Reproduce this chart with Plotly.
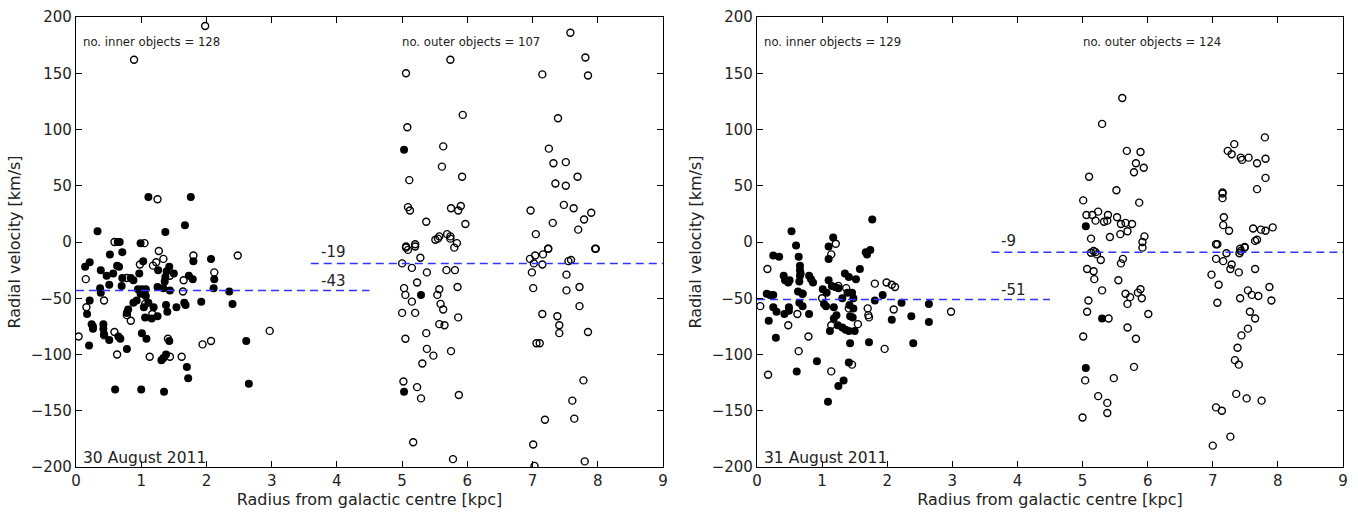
import plotly.graph_objects as go

# ---------------- 30 August 2011 ----------------
d1_filled_x = [1.11, 1.76, 1.67, 0.33, 1.37, 0.64, 0.67, 0.99, 0.71, 0.52, 1.80, 2.07, 1.03, 0.21, 0.14, 0.63, 0.66,
               0.38, 1.43, 1.39, 1.50, 0.47, 0.57, 0.71, 0.84, 0.88, 0.97, 1.26, 1.73, 1.79, 2.12, 1.37, 1.36, 0.51,
               0.70, 0.37, 0.38, 2.11, 0.95, 1.01, 1.07, 1.25, 1.34, 1.44, 2.35, 0.21, 1.92, 2.40, 0.99, 1.07, 0.88,
               0.93, 1.04, 1.11, 1.19, 1.38, 1.54, 1.66, 1.68, 0.80, 0.78, 0.17, 1.25, 1.40, 1.06, 1.16, 0.24, 0.26,
               0.26, 0.42, 0.42, 0.43, 0.51, 0.65, 0.68, 1.01, 1.08, 1.43, 2.61, 0.20, 0.78, 1.31, 1.34, 1.38, 1.70,
               1.72, 0.60, 1.00, 1.35, 2.65,
               5.03, 5.29, 5.03]
d1_filled_y = [40, 40, 15, 9.5, 9, 0, 0, -1, -9, -11, -17, -15, -17, -18, -22, -21, -22,
               -25, -22, -26, -28, -30, -28, -32, -32, -34, -28, -25, -30, -33, -33, -31, -35, -38,
               -39, -41, -45, -41, -42, -42, -42, -40, -41, -43, -44, -52, -53, -55, -46, -48, -54,
               -52, -58, -54, -58, -56, -58, -54, -56, -60, -63, -64, -66, -62, -67, -68, -73, -75,
               -77, -73, -77, -82, -87, -84, -86, -81, -86, -88, -88, -92, -95, -105, -103, -100, -111,
               -121, -131, -131, -133, -126,
               82, -47, -133]
d1_open_x = [1.25, 0.59, 1.05, 1.27, 1.80, 2.48, 1.34, 1.23, 0.98, 1.18, 2.12, 0.15, 0.78, 1.65, 1.44, 1.64, 0.16,
             0.43, 1.06, 0.78, 1.17, 0.84, 0.43, 0.59, 1.41, 1.94, 2.07, 2.97, 0.04, 0.63, 1.13, 1.44, 1.62, 0.89,
             1.98,
             # outer
             7.58, 7.81, 7.85, 7.15, 5.74, 5.06, 5.93, 7.39, 5.08, 5.63, 7.25, 7.32, 7.51, 5.61, 5.11, 5.92, 7.35,
             7.51, 7.69, 5.09, 5.12, 5.75, 5.86, 5.90, 5.37, 5.97, 5.51, 5.57, 5.69, 5.74, 5.74, 5.80, 5.06, 5.20,
             6.97, 7.05, 7.31, 7.48, 7.63, 7.79, 7.90, 7.70, 7.24, 7.96,
             5.06, 5.09, 5.20, 5.55, 5.84, 5.00, 5.28, 5.15, 5.38, 5.68, 5.81, 5.23, 5.03, 5.05, 5.15, 5.54, 5.57,
             5.85, 5.59, 5.63, 5.00, 5.20, 5.86, 5.57, 5.65, 5.37, 5.05, 5.38, 5.48, 5.75, 5.31, 5.02, 5.23, 5.29,
             5.87, 5.17, 5.78,
             6.96, 7.04, 7.02, 7.16, 7.24, 7.15, 6.99, 7.01, 7.55, 7.59, 7.52, 7.52, 7.72, 7.72, 7.97, 7.15, 7.38,
             7.41, 7.41, 7.85, 7.06, 7.11, 7.78, 7.61, 7.64, 7.19, 7.01, 7.80, 7.03]
d1_open_y = [38, 0, -1, -8, -12, -12, -15, -18, -20, -21, -27, -33, -32, -34, -30, -44, -58,
             -52, -55, -65, -64, -70, -83, -80, -86, -91, -88, -79, -84, -100, -102, -102, -102, 162,
             192,
             186, 164, 148, 149, 162, 150, 113, 110, 102, 85, 83, 70, 71, 67, 55, 58, 52,
             50, 58, 31, 28, 30, 28, 32, 18, 16, 2, 5, 7, 5, 3, -5, -5, -4,
             28, 7, 17, 33, 30, 20, 26, 11, -6, -6,
             -4, -7, -2, 3, -1, -19, -14, -23, -27, -25, -25, -36, -41, -47, -53, -47, -42,
             -40, -55, -60, -63, -63, -67, -73, -74, -81, -86, -95, -101, -97, -108, -124, -129, -139,
             -136, -178, -193,
             -15, -12, -19, -11, -6, -20, -27, -41, -17, -16, -29, -43, -40, -57, -6, -64, -66,
             -74, -81, -80, -90, -90, -123, -141, -157, -158, -180, -195, -199]

# ---------------- 31 August 2011 ----------------
d2_filled_x = [1.77, 0.53, 1.17, 0.60, 1.10, 1.67, 1.69, 1.74, 0.25, 0.34, 0.64, 1.10, 0.66, 0.66, 0.67, 0.66, 0.65,
               0.41, 0.43, 0.48, 0.50, 0.80, 0.83, 0.86, 1.10, 1.15, 1.20, 1.25, 1.35, 1.41, 1.58, 1.52, 0.63, 0.70,
               1.01, 1.07, 1.39, 1.46, 1.48, 1.31, 1.93, 1.81, 2.22, 2.64, 2.37, 2.64, 2.07, 2.40, 0.15, 0.20, 0.25,
               0.25, 0.30, 0.18, 0.42, 0.49, 0.49, 0.29, 0.65, 0.70, 0.80, 1.03, 1.06, 1.12, 1.18, 1.22, 1.18, 1.24,
               1.31, 1.36, 1.41, 1.42, 1.48, 1.43, 1.47, 1.50, 1.43, 1.72, 0.92, 0.61, 1.41, 1.25, 1.33, 1.09,
               5.05, 5.30, 5.05]
d2_filled_y = [20, 9.5, 4, -3, -4, -9, -11, -7, -12, -13, -13, -15, -21, -25, -28, -30, -35,
               -30, -34, -36, -34, -30, -33, -36, -34, -39, -40, -41, -28, -31, -24, -33, -44, -46,
               -42, -45, -45, -45, -50, -50, -47, -52, -54, -55, -66, -71, -69, -90, -46, -47, -47,
               -58, -62, -70, -64, -58, -61, -85, -54, -57, -64, -55, -57, -79, -58, -65, -68, -74,
               -76, -78, -79, -56, -59, -66, -67, -79, -90, -89, -106, -115, -107, -128, -123, -142,
               14, -68, -112]
d2_open_x = [1.21, 1.14, 0.16, 1.25, 1.37, 0.70, 1.00, 1.81, 1.99, 2.07, 2.12, 2.98, 2.10, 0.05, 0.48, 0.62, 0.79,
             0.64, 1.14, 1.41, 1.55, 1.70, 1.71, 1.72, 1.96, 1.14, 1.46, 0.17,
             # outer
             5.61, 5.30, 5.68, 5.89, 5.82, 5.79, 5.94, 5.10, 5.52, 5.01, 5.87, 5.06, 5.15, 5.24, 5.39, 5.20, 5.33,
             5.38, 5.53, 5.59, 5.66, 5.76, 5.13, 5.42, 5.58, 5.69, 5.95, 5.92, 5.92, 5.17,
             7.80, 7.33, 7.23, 7.29, 7.43, 7.45, 7.55, 7.68, 7.81, 7.81, 7.68, 7.15, 7.15, 7.15, 7.17, 7.16, 7.25,
             7.62, 7.74, 7.81, 7.92, 7.68, 7.05, 7.49, 7.42,
             5.13, 5.20, 5.22, 5.28, 5.07, 5.17, 5.18, 5.30, 5.09, 5.07, 5.40, 5.62, 5.59, 5.55, 5.66, 5.73, 5.69,
             5.85, 5.89, 5.91, 6.01, 5.69, 5.82, 5.01, 5.79, 5.04, 5.48, 5.24, 5.38, 5.38, 5.00,
             7.07, 7.05, 7.16, 7.21, 7.29, 7.27, 7.40, 7.41, 7.43, 7.49, 7.65, 7.65, 6.98, 7.09, 7.07, 7.54, 7.60,
             7.70, 7.87, 7.90, 7.42, 7.57, 7.65, 7.54, 7.44, 7.38, 7.34, 7.40, 7.36, 7.52, 7.75, 7.05, 7.14, 7.27,
             7.00]
d2_open_y = [-1.5, -11, -24, -39, -41, -46, -50, -37, -36, -38, -40, -62, -60, -57, -74, -64, -84,
             -97, -74, -59, -73, -59, -65, -67, -95, -115, -109, -118,
             128, 105, 81, 80, 70, 62, 66, 58, 46, 37, 35, 24, 24, 27, 24, 19, 18,
             19, 22, 16, 17, 16, 3, 4.5, 7, 9.5, 5, 0, -5, -8,
             93, 87, 81, 78, 75, 73, 75, 70, 74, 57, 47, 44, 43, 39, 22, 15, 10,
             12, 11, 10, 13, 2, -2, -4.5, -6,
             -9.5, -9, -11, -16, -24, -26, -33, -43, -52, -62, -68, -15, -19, -34, -46, -49, -55,
             -45, -42, -50, -64, -76, -86, -84, -111, -123, -121, -137, -143, -152, -156,
             -2, -15, -17, -10, -20, -24, -27, -10, -8, -5, 1, -24, -29, -38, -54, -43, -47,
             -48, -40, -52, -50, -62, -68, -77, -83, -94, -105, -109, -135, -139, -141, -147, -150, -173,
             -181]

days = ["30 August 2011", "31 August 2011"]
inner_counts = [128, 129]
outer_counts = [107, 124]
inner_means = [-43, -51]
outer_means = [-19, -9]
x_ticks = [0, 1, 2, 3, 4, 5, 6, 7, 8, 9]
y_ticks = [-200, -150, -100, -50, 0, 50, 100, 150, 200]

W, H = 1358, 516
fig = go.Figure()

FONT = "DejaVu Sans"
TXT = "#222222"
panels = [
    (d1_filled_x, d1_filled_y, d1_open_x, d1_open_y),
    (d2_filled_x, d2_filled_y, d2_open_x, d2_open_y),
]
domains = [[76 / W, 663 / W], [757 / W, 1343 / W]]

for i, (fx, fy, ox, oy) in enumerate(panels):
    xa = "x" if i == 0 else "x2"
    ya = "y" if i == 0 else "y2"
    fig.add_trace(go.Scatter(x=ox, y=oy, mode="markers", xaxis=xa, yaxis=ya, showlegend=False,
                             marker=dict(symbol="circle-open", size=7, color="black",
                                         line=dict(width=1.4, color="black"))))
    fig.add_trace(go.Scatter(x=fx, y=fy, mode="markers", xaxis=xa, yaxis=ya, showlegend=False,
                             marker=dict(symbol="circle", size=8, color="black",
                                         line=dict(width=0))))
    # mean lines
    fig.add_trace(go.Scatter(x=[0, 4.5], y=[inner_means[i]] * 2, mode="lines", xaxis=xa, yaxis=ya,
                             showlegend=False, line=dict(color="#3333ff", width=1.5, dash="8px,5px")))
    fig.add_trace(go.Scatter(x=[3.6, 9], y=[outer_means[i]] * 2, mode="lines", xaxis=xa, yaxis=ya,
                             showlegend=False, line=dict(color="#3333ff", width=1.5, dash="8px,5px")))
    fig.add_annotation(x=3.72, y=outer_means[i] + 10, xref=xa, yref=ya, text=str(outer_means[i]),
                       showarrow=False, xanchor="left", yanchor="middle", font=dict(family=FONT, size=15, color=TXT))
    fig.add_annotation(x=3.72, y=inner_means[i] + 8, xref=xa, yref=ya, text=str(inner_means[i]),
                       showarrow=False, xanchor="left", yanchor="middle", font=dict(family=FONT, size=15, color=TXT))
    fig.add_annotation(x=0.08, y=178, xref=xa, yref=ya, text=f"no. inner objects = {inner_counts[i]}",
                       showarrow=False, xanchor="left", yanchor="middle", font=dict(family=FONT, size=11.7, color=TXT))
    fig.add_annotation(x=4.97, y=178, xref=xa, yref=ya, text=f"no. outer objects = {outer_counts[i]}",
                       showarrow=False, xanchor="left", yanchor="middle", font=dict(family=FONT, size=11.7, color=TXT))
    fig.add_annotation(x=0.08, y=-192, xref=xa, yref=ya, text=days[i],
                       showarrow=False, xanchor="left", yanchor="middle", font=dict(family=FONT, size=15.5, color=TXT))

axis_common = dict(showgrid=False, zeroline=False, showline=True, linecolor="black", linewidth=1.3,
                   mirror="allticks", ticks="inside", ticklen=6, tickwidth=1, tickcolor="black",
                   automargin=False, tickfont=dict(family=FONT, size=15, color=TXT))
for i in range(2):
    sfx = "" if i == 0 else "2"
    fig.update_layout(**{
        f"xaxis{sfx}": dict(axis_common, domain=domains[i], range=[0, 9], tickvals=x_ticks,
                            anchor="y" + sfx if sfx else "y",
                            title=dict(text="Radius from galactic centre [kpc]", standoff=4,
                                       font=dict(family=FONT, size=16, color=TXT))),
        f"yaxis{sfx}": dict(axis_common, domain=[0, 1], range=[-200, 200], tickvals=y_ticks,
                            anchor="x" + sfx if sfx else "x",
                            title=dict(text="Radial velocity [km/s]", standoff=6,
                                       font=dict(family=FONT, size=16, color=TXT))),
    })

fig.update_layout(width=W, height=H, margin=dict(l=0, r=0, t=17, b=49),
                  paper_bgcolor="white", plot_bgcolor="white")

fig.write_html("out.html", config={"displayModeBar": False},
               post_script="document.body.style.margin='0';document.body.style.overflow='hidden';")
